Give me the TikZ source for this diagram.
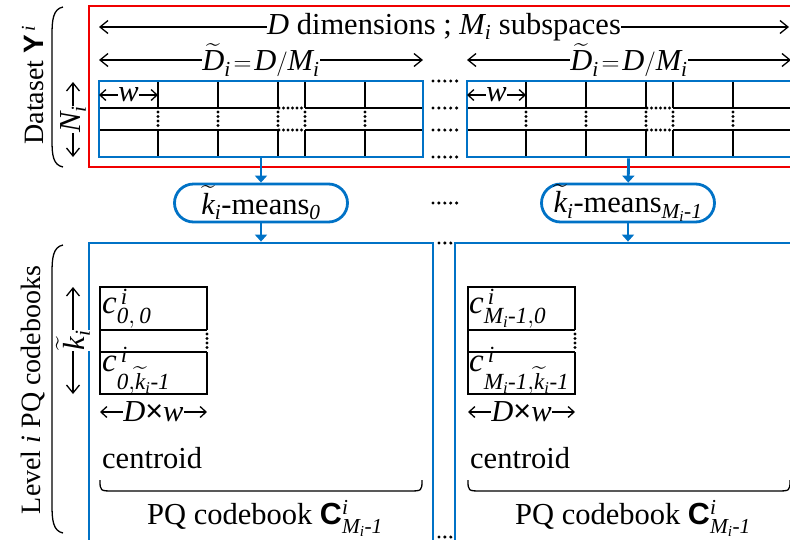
\documentclass[tikz,border=0pt]{standalone}
\usepackage{amsmath}
\usepackage{fontspec}
\setmainfont{Liberation Serif}
\setsansfont{Liberation Sans}
\usetikzlibrary{arrows.meta}
\definecolor{pqblue}{RGB}{0,114,198}
\definecolor{pqred}{RGB}{240,0,0}
\newcommand{\vi}{\mathit{i}}
\newcommand{\vMi}{\mathit{M}_{\vi}}
\newcommand{\vki}{\widetilde{\mathit{k}}_{\vi}}
\begin{document}
\begin{tikzpicture}[x=1pt,y=-1pt,
    font=\fontsize{30.5}{33}\selectfont,
    gridline/.style={line width=1.6pt},
    dotline/.style={line width=3.2pt,line cap=round,dash pattern=on 0pt off 4.5pt},
    gapdots/.style={line width=3.4pt,line cap=round,dash pattern=on 0pt off 5.9pt},
    dimarrow/.style={line width=1.3pt,{Straight Barb[length=8pt,width=13pt]}-{Straight Barb[length=8pt,width=13pt]}},
    smallarrow/.style={line width=1.3pt,{Straight Barb[length=6pt,width=11pt]}-{Straight Barb[length=6pt,width=11pt]}},
    brace/.style={line width=1.3pt},
    lbl/.style={fill=white,inner sep=0.5pt},
    sidelabel/.style={rotate=90,font=\fontsize{28}{30}\selectfont},
    databox/.style={draw=pqblue,line width=2.8pt,minimum width=324pt,minimum height=76pt,inner sep=0pt},
    bookbox/.style={draw=pqblue,line width=2.8pt,inner sep=0pt},
    kmeans/.style={draw=pqblue,line width=2.8pt,rounded corners=19pt,minimum width=173pt,minimum height=38pt,inner sep=0pt}]

  \useasboundingbox (0,0) rectangle (790,539);
  \clip (0,0) rectangle (790,539);

  \node[draw=pqred,line width=2.8pt,minimum width=712pt,minimum height=161pt] (dataset) at (445,86.5) {};

  \draw[dimarrow] (99,27) -- node[lbl] {$\mathit{D}$ dimensions ; $\vMi$ subspaces} (789,27);

  \foreach \k/\xo in {0/99,1/467}{
    \begin{scope}[xshift=\xo pt]
      \draw[gridline] (0,108) -- (179,108) (206,108) -- (324,108)
                      (0,130) -- (179,130) (206,130) -- (324,130);
      \draw[dotline] (180,108) -- (206,108) (180,130) -- (206,130);
      \foreach \c in {59,119,179,206,266}{
        \draw[gridline] (\c,81) -- (\c,108) (\c,130) -- (\c,157);
        \draw[dotline] (\c,112) -- (\c,127);
      }
      \node[databox] (sub\k) at (162,119) {};
      \draw[dimarrow] (0,60) -- node[lbl] {$\widetilde{\mathit{D}}_{\vi}\!=\!\mathit{D}/\vMi$} (324,60);
      \draw[smallarrow] (0,95) -- node[lbl] {$\mathit{w}$} (59,95);

      \draw[gridline] (108,330) -- (108,287) -- (1,287) -- (1,394) -- (108,394) -- (108,352)
                      (1,330) -- (108,330) (1,352) -- (108,352);
      \draw[dotline] (108,334) -- (108,349);
      \draw[smallarrow] (1,412) -- node[lbl] {$\mathit{D}$\textsf{×}$\mathit{w}$} (108,412);
      \node[anchor=base west,inner sep=0pt] (cen\k) at (3,468) {centroid};
      \draw[brace] (1,480) .. controls (1,491) .. (15,491) -- (309,491) .. controls (323,491) .. (323,480);
      \node[anchor=base] (pq\k) at (166,524) {PQ codebook \textsf{\bfseries C}$^{\vi}_{\vMi\text{-}\mathit{1}}$};
    \end{scope}
  }

  \node[kmeans] (km0) at (261,203) {$\vki$-means$_{\mathit{0}}$};
  \node[kmeans] (km1) at (628,203) {$\vki$-means$_{\vMi\text{-}\mathit{1}}$};

  \node[bookbox,minimum width=344pt,minimum height=360pt] (cb0) at (261,423) {};
  \node[bookbox,minimum width=346pt,minimum height=360pt] (cb1) at (628,423) {};

  \begin{scope}[every edge/.style={draw=pqblue,line width=2.8pt,-{Triangle[length=7pt,width=12pt]}}]
    \path (sub0) edge (km0);
    \path (sub1) edge (km1);
    \path (km0) edge (cb0);
    \path (km1) edge (cb1);
  \end{scope}

  \begin{scope}[every node/.style={anchor=west,inner sep=1pt,font=\fontsize{33}{36}\selectfont}]
    \node (c00) at (101,309) {$\mathit{c}^{\,\vi}_{\mathit{0,\,0}}$};
    \node (c0k) at (101,371) {$\mathit{c}^{\,\vi}_{\mathit{0},\vki\text{-}\mathit{1}}$};
    \node (cm0) at (468,309) {$\mathit{c}^{\,\vi}_{\vMi\text{-}\mathit{1},\mathit{0}}$};
    \node (cmk) at (468,371) {$\mathit{c}^{\,\vi}_{\vMi\text{-}\mathit{1},\vki\text{-}\mathit{1}}$};
  \end{scope}

  \foreach \y in {81,108,130,157,203}{
    \draw[gapdots] (433,\y) -- (457,\y);
  }
  \draw[gapdots] (439,243) -- (451,243) (439,537) -- (451,537);

  \draw[dimarrow] (73,157) -- node[lbl,rotate=90] {$\mathit{N}_{\vi}$} (73,82);
  \draw[dimarrow] (73,394) -- node[lbl,rotate=90] {$\vki$} (73,287);

  \draw[brace] (63,7) .. controls (53,9) and (52,20) .. (52,35) -- (52,140) .. controls (52,155) and (53,165) .. (63,167);
  \draw[brace] (63,245) .. controls (53,247) and (52,258) .. (52,273) -- (52,505) .. controls (52,520) and (53,531) .. (63,533);

  \node[sidelabel] (dlabel) at (33,85) {Dataset \textsf{\bfseries Y}$^{\,\vi}$};
  \node[sidelabel] (llabel) at (33,390) {Level $\vi$ PQ codebooks};

\end{tikzpicture}
\end{document}
